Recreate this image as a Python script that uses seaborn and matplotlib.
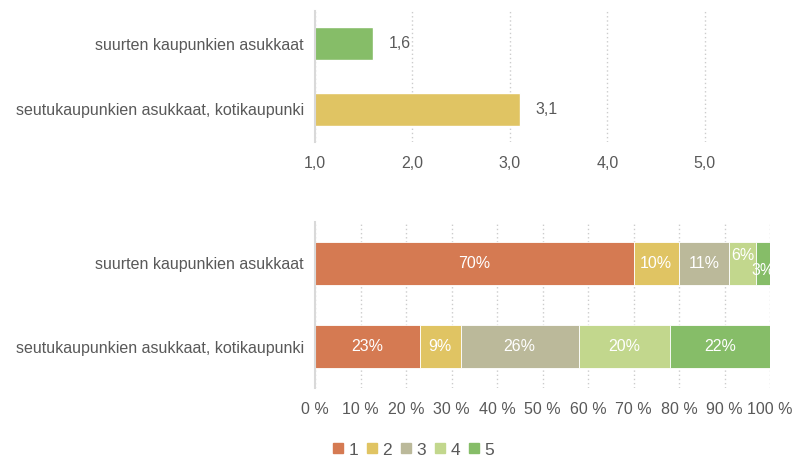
import numpy as np
import pandas as pd
import matplotlib
matplotlib.use("Agg")
import matplotlib.pyplot as plt
import seaborn as sns
from matplotlib.lines import Line2D

# data
groups = ["suurten kaupunkien asukkaat", "seutukaupunkien asukkaat, kotikaupunki"]
means = [1.6, 3.1]
mean_labels = ["1,6", "3,1"]
answers = ["1", "2", "3", "4", "5"]
shares_big = [70, 10, 11, 6, 3]
shares_sub = [23, 9, 26, 20, 22]

colors = ["#D57A52", "#E0C463", "#BBB99A", "#C2D78D", "#86BD68"]
mean_colors = ["#86BD68", "#E0C463"]
txt = "#595959"
fs = 11.5

sns.set_style("white")
plt.rcParams["font.family"] = ["Liberation Sans", "DejaVu Sans"]
plt.rcParams["font.size"] = fs

fig = plt.figure(figsize=(7.94, 4.59), dpi=100)
ax1 = fig.add_axes([315 / 794, 1 - 142 / 459, 455 / 794, 131 / 459])
ax2 = fig.add_axes([315 / 794, 1 - 388 / 459, 455 / 794, 166 / 459])

# top: averages
df_mean = pd.DataFrame({"group": groups, "mean": means})
sns.barplot(data=df_mean, x="mean", y="group", hue="group", palette=mean_colors,
            width=0.5, legend=False, ax=ax1, saturation=1)
ax1.set_xlim(1, 5.67)
ax1.set_ylim(1.5, -0.5)
ax1.set_xticks([1, 2, 3, 4, 5])
ax1.set_xticklabels(["1,0", "2,0", "3,0", "4,0", "5,0"])
for i, (m, lab) in enumerate(zip(means, mean_labels)):
    ax1.text(m + 0.16, i, lab, va="center", ha="left", color=txt, fontsize=fs)

# bottom: distribution
df = pd.DataFrame([shares_big, shares_sub], columns=answers, index=groups)
left = np.zeros(len(groups))
for j, a in enumerate(answers):
    vals = df[a].values
    ax2.barh(range(len(groups)), vals, left=left, height=0.52, color=colors[j],
             edgecolor="white", linewidth=0.6, label=a)
    for i, v in enumerate(vals):
        dy = 0
        if i == 0 and a == "4":
            dy = -0.1
        if i == 0 and a == "5":
            dy = 0.08
        ax2.text(left[i] + v / 2, i + dy, f"{v}%", ha="center", va="center",
                 color="white", fontsize=fs)
    left = left + vals
ax2.set_xlim(0, 100)
ax2.set_ylim(1.5, -0.5)
ax2.set_yticks(range(len(groups)))
ax2.set_yticklabels(groups)
ax2.set_xticks(range(0, 101, 10))
ax2.set_xticklabels([f"{t} %" for t in range(0, 101, 10)])

for ax in (ax1, ax2):
    ax.set_xlabel("")
    ax.set_ylabel("")
    for s in ["top", "right", "bottom"]:
        ax.spines[s].set_visible(False)
    ax.spines["left"].set_color("#d9d9d9")
    ax.spines["left"].set_linewidth(1.5)
    ax.grid(axis="x", linestyle=(0, (1, 2)), color="#cccccc", linewidth=1)
    ax.set_axisbelow(True)
    ax.tick_params(length=0, colors=txt, labelsize=fs)
    ax.tick_params(axis="x", pad=10)
    ax.tick_params(axis="y", pad=8)

handles = [Line2D([], [], marker="s", linestyle="", markersize=7.5,
                  markerfacecolor=c, markeredgecolor=c) for c in colors]
fig.legend(handles, answers, loc="center", bbox_to_anchor=(413 / 794, 1 - 450 / 459),
           ncol=5, frameon=False, handlelength=0.7, handletextpad=0.25,
           columnspacing=0.45, fontsize=fs + 1, labelcolor=txt)

fig.savefig("out.png", dpi=100)
